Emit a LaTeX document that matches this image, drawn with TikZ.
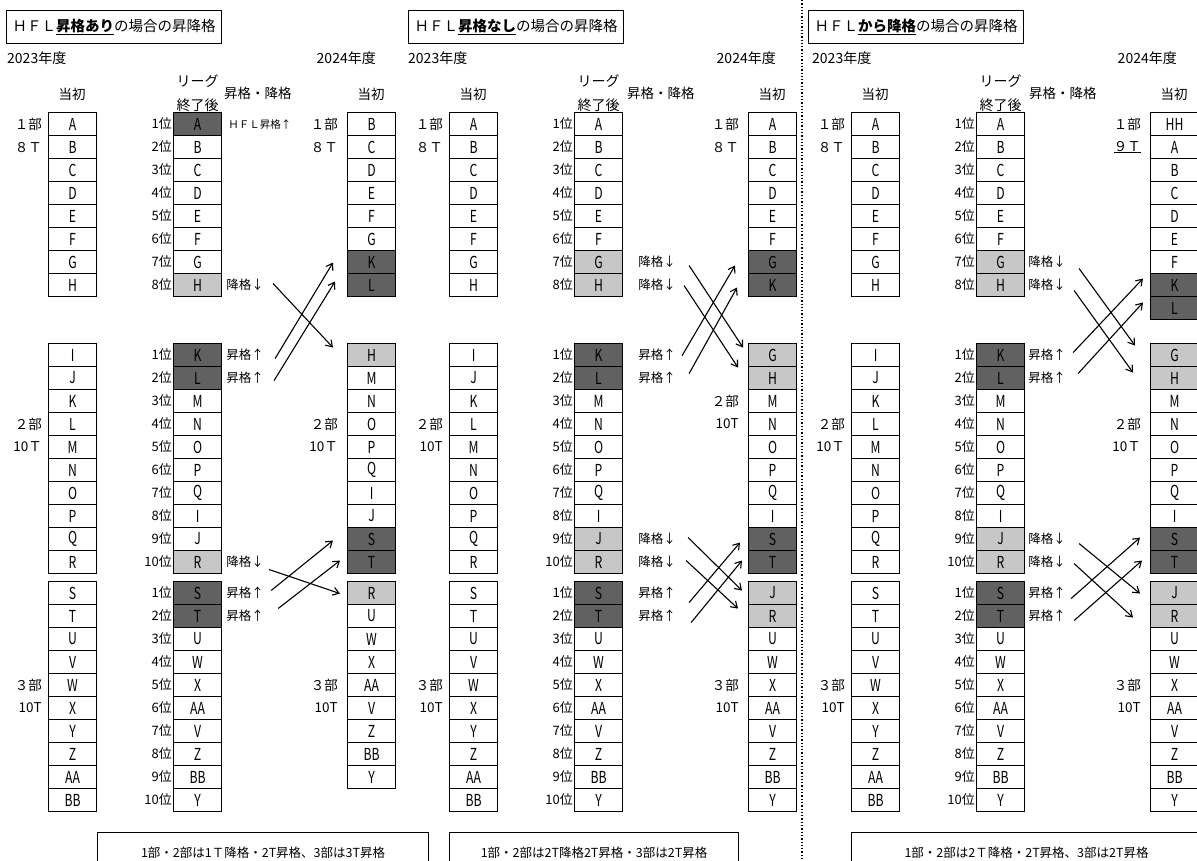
\documentclass[tikz,border=0pt]{standalone}
\usepackage{fontspec}
\setmainfont{Noto Sans CJK JP}
\newfontfamily\nf{Noto Sans CJK JP}[FakeStretch=0.74]
\usetikzlibrary{positioning,arrows.meta}
\definecolor{cw}{gray}{1}
\definecolor{cd}{gray}{0.38}
\definecolor{cl}{gray}{0.78}

% one column of team boxes: name, x, top y, list of team/colour
\newcommand{\teamcol}[4]{%
  \foreach \tm/\fl [count=\i] in {#4}
    \node[cell, fill=\fl] (#1-\i) at (#2, #3+23*\i-23) {\tm};}

\begin{document}
\begin{tikzpicture}[x=1pt, y=-1pt, font=\fontsize{13.5}{16}\selectfont,
  cell/.style={draw, line width=1.1pt, minimum width=48pt, minimum height=23pt,
    anchor=north west, inner sep=0pt, font=\nf\fontsize{16.5}{16.5}\selectfont},
  rank/.style={inner sep=1pt, font=\fontsize{13}{13}\selectfont},
  grp/.style={inner sep=1pt},
  note/.style={inner sep=1pt, font=\fontsize{12.5}{13}\selectfont},
  year/.style={inner sep=0pt, font=\fontsize{14}{14}\selectfont},
  titlebox/.style={draw, line width=1.1pt, anchor=north west, minimum width=215pt,
    minimum height=33pt, inner sep=0pt, font=\fontsize{14.5}{15}\selectfont},
  foot/.style={draw, line width=1.1pt, anchor=north west, minimum height=40pt,
    font=\fontsize{12.5}{13}\selectfont},
  arr/.style={line width=1.1pt, -{Straight Barb[length=6pt,width=8pt]}}]
\useasboundingbox (0,0) rectangle (1197,861);

%% HFL promotion
\begin{scope}
\node[titlebox] (aTitle) at (6,10) {ＨＦＬ\underline{\textbf{昇格あり}}の場合の昇降格};
\node[year, anchor=west] (aY1) at (7,58) {2023年度};
\node[year, anchor=east] (aY2) at (376,58) {2024年度};
\node (aIn1) at (72,94) {当初};
\node (aIn2) at (371,94) {当初};
\node[anchor=west, inner sep=0pt] (aUD) at (224,93) {昇格・降格};

\teamcol{aL1}{48}{112}{A/cw,B/cw,C/cw,D/cw,E/cw,F/cw,G/cw,H/cw}
\teamcol{aL2}{48}{343}{I/cw,J/cw,K/cw,L/cw,M/cw,N/cw,O/cw,P/cw,Q/cw,R/cw}
\teamcol{aL3}{48}{581}{S/cw,T/cw,U/cw,V/cw,W/cw,X/cw,Y/cw,Z/cw,AA/cw,BB/cw}
\teamcol{aM1}{173}{112}{A/cd,B/cw,C/cw,D/cw,E/cw,F/cw,G/cw,H/cl}
\teamcol{aM2}{173}{343}{K/cd,L/cd,M/cw,N/cw,O/cw,P/cw,Q/cw,I/cw,J/cw,R/cl}
\teamcol{aM3}{173}{581}{S/cd,T/cd,U/cw,W/cw,X/cw,AA/cw,V/cw,Z/cw,BB/cw,Y/cw}
\teamcol{aR1}{347}{112}{B/cw,C/cw,D/cw,E/cw,F/cw,G/cw,K/cd,L/cd}
\teamcol{aR2}{347}{343}{H/cl,M/cw,N/cw,O/cw,P/cw,Q/cw,I/cw,J/cw,S/cd,T/cd}
\teamcol{aR3}{347}{581}{R/cl,U/cw,W/cw,X/cw,AA/cw,V/cw,Z/cw,BB/cw,Y/cw}

\node[align=center, anchor=south, inner sep=0pt, font=\fontsize{14}{24}\selectfont] (aLg) at (aM1-1.north) {リーグ\\終了後};
\foreach \d/\n in {1/8,2/10,3/10}
  \foreach \i in {1,...,\n}
    \node[rank, left=0pt of aM\d-\i] (aN\d-\i) {\i 位};

\node[grp, left=5pt of aL1-1] (aLa) {１部};
\node[grp, left=5pt of aL1-2] (aLb) {８Ｔ};
\node[grp, left=5pt of aL2-4] (aLc) {２部};
\node[grp, left=5pt of aL2-5] (aLd) {10Ｔ};
\node[grp, left=5pt of aL3-5] (aLe) {３部};
\node[grp, left=5pt of aL3-6] (aLf) {10T};
\node[grp, left=8pt of aR1-1] (aRa) {１部};
\node[grp, left=8pt of aR1-2] (aRb) {８Ｔ};
\node[grp, left=8pt of aR2-4] (aRc) {２部};
\node[grp, left=8pt of aR2-5] (aRd) {10Ｔ};
\node[grp, left=8pt of aR3-5] (aRe) {３部};
\node[grp, left=8pt of aR3-6] (aRf) {10T};

\node[note, right=5pt of aM1-1, font=\fontsize{10.5}{11}\selectfont] (aUp0) {ＨＦＬ昇格↑};
\node[note, right=3pt of aM1-8] (aDn1) {降格↓};
\node[note, right=3pt of aM2-1] (aUp1) {昇格↑};
\node[note, right=3pt of aM2-2] (aUp2) {昇格↑};
\node[note, right=3pt of aM2-10] (aDn2) {降格↓};
\node[note, right=3pt of aM3-1] (aUp3) {昇格↑};
\node[note, right=3pt of aM3-2] (aUp4) {昇格↑};

\draw[arr] ([shift={(51,-1.5)}]aM1-8.east) -- ([shift={(-14,-7.5)}]aR2-1.west);
\draw[arr] ([shift={(53,3.5)}]aM2-1.east) -- ([shift={(-14,0.5)}]aR1-7.west);
\draw[arr] ([shift={(52,2.5)}]aM2-2.east) -- ([shift={(-12,-3.5)}]aR1-8.west);
\draw[arr] ([shift={(47,7.5)}]aM2-10.east) -- ([shift={(-7,0.5)}]aR3-1.west);
\draw[arr] ([shift={(49,-2.5)}]aM3-1.east) -- ([shift={(-14,1.5)}]aR2-9.west);
\draw[arr] ([shift={(56,-7.5)}]aM3-2.east) -- ([shift={(-7,-1.5)}]aR2-10.west);

\node[foot, minimum width=331pt] (aFoot) at (97,832) {1部・2部は1Ｔ降格・2T昇格、3部は3T昇格};
\end{scope}

%% no HFL promotion
\begin{scope}[xshift=401pt]
\node[titlebox] (bTitle) at (7,10) {ＨＦＬ\underline{\textbf{昇格なし}}の場合の昇降格};
\node[year, anchor=west] (bY1) at (7,58) {2023年度};
\node[year, anchor=east] (bY2) at (375,58) {2024年度};
\node (bIn1) at (72,94) {当初};
\node (bIn2) at (371,94) {当初};
\node[anchor=west, inner sep=0pt] (bUD) at (226,93) {昇格・降格};

\teamcol{bL1}{48}{112}{A/cw,B/cw,C/cw,D/cw,E/cw,F/cw,G/cw,H/cw}
\teamcol{bL2}{48}{343}{I/cw,J/cw,K/cw,L/cw,M/cw,N/cw,O/cw,P/cw,Q/cw,R/cw}
\teamcol{bL3}{48}{581}{S/cw,T/cw,U/cw,V/cw,W/cw,X/cw,Y/cw,Z/cw,AA/cw,BB/cw}
\teamcol{bM1}{173}{112}{A/cw,B/cw,C/cw,D/cw,E/cw,F/cw,G/cl,H/cl}
\teamcol{bM2}{173}{343}{K/cd,L/cd,M/cw,N/cw,O/cw,P/cw,Q/cw,I/cw,J/cl,R/cl}
\teamcol{bM3}{173}{581}{S/cd,T/cd,U/cw,W/cw,X/cw,AA/cw,V/cw,Z/cw,BB/cw,Y/cw}
\teamcol{bR1}{347}{112}{A/cw,B/cw,C/cw,D/cw,E/cw,F/cw,G/cd,K/cd}
\teamcol{bR2}{347}{343}{G/cl,H/cl,M/cw,N/cw,O/cw,P/cw,Q/cw,I/cw,S/cd,T/cd}
\teamcol{bR3}{347}{581}{J/cl,R/cl,U/cw,W/cw,X/cw,AA/cw,V/cw,Z/cw,BB/cw,Y/cw}

\node[align=center, anchor=south, inner sep=0pt, font=\fontsize{14}{24}\selectfont] (bLg) at (bM1-1.north) {リーグ\\終了後};
\foreach \d/\n in {1/8,2/10,3/10}
  \foreach \i in {1,...,\n}
    \node[rank, left=0pt of bM\d-\i] (bN\d-\i) {\i 位};

\node[grp, left=5pt of bL1-1] (bLa) {１部};
\node[grp, left=5pt of bL1-2] (bLb) {８Ｔ};
\node[grp, left=5pt of bL2-4] (bLc) {２部};
\node[grp, left=5pt of bL2-5] (bLd) {10T};
\node[grp, left=5pt of bL3-5] (bLe) {３部};
\node[grp, left=5pt of bL3-6] (bLf) {10T};
\node[grp, left=8pt of bR1-1] (bRa) {１部};
\node[grp, left=8pt of bR1-2] (bRb) {８Ｔ};
\node[grp, left=8pt of bR2-3] (bRc) {２部};
\node[grp, left=8pt of bR2-4] (bRd) {10T};
\node[grp, left=8pt of bR3-5] (bRe) {３部};
\node[grp, left=8pt of bR3-6] (bRf) {10T};

\node[note, right=14pt of bM1-7] (bDn1) {降格↓};
\node[note, right=14pt of bM1-8] (bDn2) {降格↓};
\node[note, right=14pt of bM2-1] (bUp1) {昇格↑};
\node[note, right=14pt of bM2-2] (bUp2) {昇格↑};
\node[note, right=14pt of bM2-9] (bDn3) {降格↓};
\node[note, right=14pt of bM2-10] (bDn4) {降格↓};
\node[note, right=14pt of bM3-1] (bUp3) {昇格↑};
\node[note, right=14pt of bM3-2] (bUp4) {昇格↑};

\draw[arr] ([shift={(66,3.5)}]bM1-7.east) -- ([shift={(-5,-7.5)}]bR2-1.west);
\draw[arr] ([shift={(61,0.5)}]bM1-8.east) -- ([shift={(-10,-10.5)}]bR2-2.west);
\draw[arr] ([shift={(59,0.5)}]bM2-1.east) -- ([shift={(-13,3.5)}]bR1-7.west);
\draw[arr] ([shift={(66,-4.5)}]bM2-2.east) -- ([shift={(-11,2.5)}]bR1-8.west);
\draw[arr] ([shift={(65,-1.5)}]bM2-9.east) -- ([shift={(-6,-2.5)}]bR3-1.west);
\draw[arr] ([shift={(63,-1.5)}]bM2-10.east) -- ([shift={(-10,-7.5)}]bR3-2.west);
\draw[arr] ([shift={(66,9.5)}]bM3-1.east) -- ([shift={(-8,3.5)}]bR2-9.west);
\draw[arr] ([shift={(68,6.5)}]bM3-2.east) -- ([shift={(-6,-1.5)}]bR2-10.west);

\node[foot, minimum width=289pt] (bFoot) at (48,832) {1部・2部は2T降格2T昇格・3部は2T昇格};
\end{scope}

\draw[dotted, line width=1.3pt] (802,0) -- (802,861);

%% relegation from HFL
\begin{scope}[xshift=803pt]
\node[titlebox] (cTitle) at (5,10) {ＨＦＬ\underline{\textbf{から降格}}の場合の昇降格};
\node[year, anchor=west] (cY1) at (9,58) {2023年度};
\node[year, anchor=east] (cY2) at (374,58) {2024年度};
\node (cIn1) at (72,94) {当初};
\node (cIn2) at (371,94) {当初};
\node[anchor=west, inner sep=0pt] (cUD) at (226,93) {昇格・降格};

\teamcol{cL1}{48}{112}{A/cw,B/cw,C/cw,D/cw,E/cw,F/cw,G/cw,H/cw}
\teamcol{cL2}{48}{343}{I/cw,J/cw,K/cw,L/cw,M/cw,N/cw,O/cw,P/cw,Q/cw,R/cw}
\teamcol{cL3}{48}{581}{S/cw,T/cw,U/cw,V/cw,W/cw,X/cw,Y/cw,Z/cw,AA/cw,BB/cw}
\teamcol{cM1}{173}{112}{A/cw,B/cw,C/cw,D/cw,E/cw,F/cw,G/cl,H/cl}
\teamcol{cM2}{173}{343}{K/cd,L/cd,M/cw,N/cw,O/cw,P/cw,Q/cw,I/cw,J/cl,R/cl}
\teamcol{cM3}{173}{581}{S/cd,T/cd,U/cw,W/cw,X/cw,AA/cw,V/cw,Z/cw,BB/cw,Y/cw}
\teamcol{cR1}{347}{112}{HH/cw,A/cw,B/cw,C/cw,D/cw,E/cw,F/cw,K/cd,L/cd}
\teamcol{cR2}{347}{343}{G/cl,H/cl,M/cw,N/cw,O/cw,P/cw,Q/cw,I/cw,S/cd,T/cd}
\teamcol{cR3}{347}{581}{J/cl,R/cl,U/cw,W/cw,X/cw,AA/cw,V/cw,Z/cw,BB/cw,Y/cw}

\node[align=center, anchor=south, inner sep=0pt, font=\fontsize{14}{24}\selectfont] (cLg) at (cM1-1.north) {リーグ\\終了後};
\foreach \d/\n in {1/8,2/10,3/10}
  \foreach \i in {1,...,\n}
    \node[rank, left=0pt of cM\d-\i] (cN\d-\i) {\i 位};

\node[grp, left=5pt of cL1-1] (cLa) {１部};
\node[grp, left=5pt of cL1-2] (cLb) {８Ｔ};
\node[grp, left=5pt of cL2-4] (cLc) {２部};
\node[grp, left=5pt of cL2-5] (cLd) {10Ｔ};
\node[grp, left=5pt of cL3-5] (cLe) {３部};
\node[grp, left=5pt of cL3-6] (cLf) {10T};
\node[grp, left=8pt of cR1-1] (cRa) {１部};
\node[grp, left=8pt of cR1-2] (cRb) {\underline{９Ｔ}};
\node[grp, left=8pt of cR2-4] (cRc) {２部};
\node[grp, left=8pt of cR2-5] (cRd) {10Ｔ};
\node[grp, left=8pt of cR3-5] (cRe) {３部};
\node[grp, left=8pt of cR3-6] (cRf) {10T};

\node[note, right=2pt of cM1-7] (cDn1) {降格↓};
\node[note, right=2pt of cM1-8] (cDn2) {降格↓};
\node[note, right=2pt of cM2-1] (cUp1) {昇格↑};
\node[note, right=2pt of cM2-2] (cUp2) {昇格↑};
\node[note, right=2pt of cM2-9] (cDn3) {降格↓};
\node[note, right=2pt of cM2-10] (cDn4) {降格↓};
\node[note, right=2pt of cM3-1] (cUp3) {昇格↑};
\node[note, right=2pt of cM3-2] (cUp4) {昇格↑};

\draw[arr] ([shift={(54,6.5)}]cM1-7.east) -- ([shift={(-15,-9.5)}]cR2-1.west);
\draw[arr] ([shift={(49,5.5)}]cM1-8.east) -- ([shift={(-17,-5.5)}]cR2-2.west);
\draw[arr] ([shift={(48,-2.5)}]cM2-1.east) -- ([shift={(-7,-6.5)}]cR1-8.west);
\draw[arr] ([shift={(53,-4.5)}]cM2-2.east) -- ([shift={(-7,-5.5)}]cR1-9.west);
\draw[arr] ([shift={(54,4.5)}]cM2-9.east) -- ([shift={(-10,0.5)}]cR3-1.west);
\draw[arr] ([shift={(49,1.5)}]cM2-10.east) -- ([shift={(-17,1.5)}]cR3-2.west);
\draw[arr] ([shift={(46,5.5)}]cM3-1.east) -- ([shift={(-10,-1.5)}]cR2-9.west);
\draw[arr] ([shift={(49,4.5)}]cM3-2.east) -- ([shift={(-8,-1.5)}]cR2-10.west);

\node[foot, minimum width=350pt] (cFoot) at (48,832) {1部・2部は2Ｔ降格・2T昇格、3部は2T昇格};
\end{scope}
\end{tikzpicture}
\end{document}
